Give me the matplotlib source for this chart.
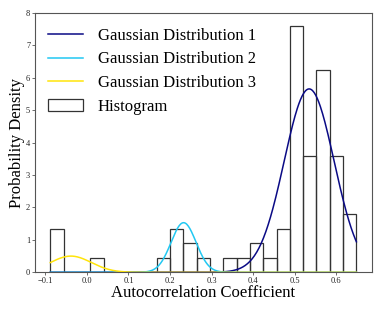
import numpy as np
import matplotlib
matplotlib.use("Agg")
import matplotlib.pyplot as plt

# histogram: 23 equal bins between the data min and max, counts per bin
data_min = -0.088
data_max = 0.648
counts = [3, 0, 0, 1, 0, 0, 0, 0, 1, 3, 2, 1, 0, 1, 1, 2, 1, 3, 17, 8, 14, 8, 4]

# fitted gaussian mixture components
g_weights = [0.85, 0.115, 0.0614]
g_means = [0.5344, 0.2325, -0.0385]
g_stds = [0.060, 0.030, 0.049]
g_labels = ["Gaussian Distribution 1", "Gaussian Distribution 2", "Gaussian Distribution 3"]
g_colors = ["#0a0a85", "#22c8f2", "#ffe40a"]

plt.rcParams['font.family'] = ['Liberation Serif', 'DejaVu Serif']

fig = plt.figure(figsize=(3.82, 3.11), dpi=100)
ax = fig.add_axes([0.0916, 0.1244, 0.8814, 0.8347])

nbins = len(counts)
edges = np.linspace(data_min, data_max, nbins + 1)
centers = (edges[:-1] + edges[1:]) / 2

xs = np.linspace(data_min, data_max, 400)
for w, m, s, lab, c in zip(g_weights, g_means, g_stds, g_labels, g_colors):
    pdf = w / (s * np.sqrt(2 * np.pi)) * np.exp(-(xs - m) ** 2 / (2 * s ** 2))
    ax.plot(xs, pdf, color=c, lw=1.1, label=lab)

ax.hist(centers, bins=edges, weights=counts, density=True, fill=False,
        edgecolor="#333333", linewidth=0.9, label="Histogram")

ax.set_ylim(0, 8)
ax.set_xticks(np.arange(-0.1, 0.61, 0.1))
ax.set_xlabel("Autocorrelation Coefficient", fontsize=12, labelpad=0)
ax.set_ylabel("Probability Density", fontsize=12, labelpad=0.5)
ax.tick_params(labelsize=6, length=2, width=0.6, colors="#555555", labelcolor="#222222", pad=1.5)
for sp in ax.spines.values():
    sp.set_color("#555555")
    sp.set_linewidth(0.8)

ax.legend(loc="upper left", frameon=False, fontsize=12, handlelength=2.1,
          handletextpad=0.85, labelspacing=0.47, borderaxespad=0.3,
          bbox_to_anchor=(0.005, 0.988))

fig.savefig("out.png", dpi=100)
